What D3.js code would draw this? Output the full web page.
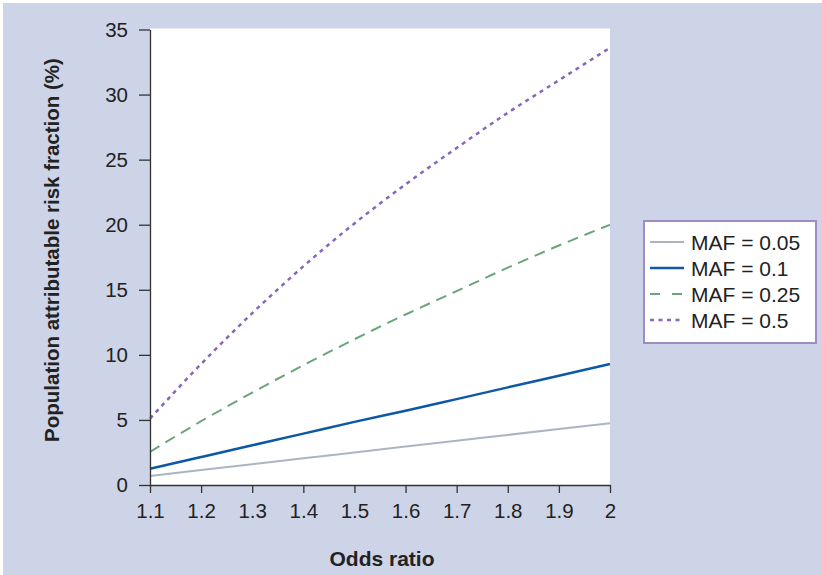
<!DOCTYPE html>
<html lang="en">
<head>
<meta charset="utf-8">
<title>PAR fraction vs odds ratio</title>
<style>
  body { margin: 0; background: #fff; }
  svg { display: block; font-family: "Liberation Sans", Arial, Helvetica, sans-serif; }
  .axis path, .axis line { stroke: #333; stroke-width: 1.3px; }
  .axis text { font-size: 20.5px; fill: #222; }
  .series { fill: none; }
</style>
</head>
<body>
<div id="chart"></div>
<script src="https://cdn.jsdelivr.net/npm/d3@7"></script>
<script>
// values
var oddsRatio = [1.1, 1.2, 1.3, 1.4, 1.5, 1.6, 1.7, 1.8, 1.9, 2.0];
var maf005 = [0.7, 1.15, 1.6, 2.05, 2.5, 2.95, 3.4, 3.85, 4.3, 4.75];
var maf01  = [1.25, 2.15, 3.05, 3.95, 4.85, 5.7, 6.6, 7.5, 8.4, 9.3];
var maf025 = [2.55, 4.9, 7.1, 9.2, 11.2, 13.1, 14.9, 16.7, 18.4, 20.0];
var maf05  = [5.1, 9.3, 13.2, 16.8, 20.1, 23.1, 25.9, 28.6, 31.1, 33.6];
var seriesNames = ["MAF = 0.05", "MAF = 0.1", "MAF = 0.25", "MAF = 0.5"];
var xTicks = [1.1, 1.2, 1.3, 1.4, 1.5, 1.6, 1.7, 1.8, 1.9, 2];
var yTicks = [0, 5, 10, 15, 20, 25, 30, 35];

var styles = [
  { color: "#aab5c3", width: 2,   dash: null },
  { color: "#0d58a6", width: 2.5, dash: null },
  { color: "#6ba47b", width: 2,   dash: "11,7" },
  { color: "#8666bb", width: 2.5, dash: "4,4.5" }
];

var width = 822, height = 575;
var plotLeft = 150, plotRight = 610, plotTop = 29.5, plotBottom = 485;

var svg = d3.select("#chart").append("svg")
    .attr("width", width)
    .attr("height", height);

// backdrop with the thin white edge on top/left
svg.append("rect").attr("width", width).attr("height", height).attr("fill", "#fff");
svg.append("rect").attr("x", 3).attr("y", 3).attr("width", width - 3).attr("height", height - 3)
    .attr("fill", "#ced4e8");

var x = d3.scaleLinear().domain([1.1, 2]).range([plotLeft, plotRight]);
var y = d3.scaleLinear().domain([0, 35]).range([plotBottom, plotTop]);

svg.append("rect")
    .attr("x", plotLeft).attr("y", plotTop - 1)
    .attr("width", plotRight - plotLeft).attr("height", plotBottom - plotTop + 1)
    .attr("fill", "#fff");

var data = [maf005, maf01, maf025, maf05].map(function(vals) {
  return vals.map(function(v, i) { return [oddsRatio[i], v]; });
});

var line = d3.line()
    .x(function(d) { return x(d[0]); })
    .y(function(d) { return y(d[1]); })
    .curve(d3.curveMonotoneX);

svg.selectAll(".series")
    .data(data)
  .enter().append("path")
    .attr("class", "series")
    .attr("d", line)
    .attr("stroke", function(d, i) { return styles[i].color; })
    .attr("stroke-width", function(d, i) { return styles[i].width; })
    .attr("stroke-dasharray", function(d, i) { return styles[i].dash; });

svg.append("g")
    .attr("class", "axis")
    .attr("transform", "translate(0," + plotBottom + ")")
    .call(d3.axisBottom(x).tickValues(xTicks).tickSize(8).tickSizeOuter(0).tickPadding(10)
      .tickFormat(function(d) { return d === 2 ? "2" : d3.format(".1f")(d); }));

svg.append("g")
    .attr("class", "axis")
    .attr("transform", "translate(" + plotLeft + ",0)")
    .call(d3.axisLeft(y).tickValues(yTicks).tickSize(11).tickSizeOuter(0).tickPadding(11));

// axis titles
svg.append("text")
    .attr("x", 382).attr("y", 566)
    .attr("text-anchor", "middle")
    .attr("font-size", 21).attr("font-weight", "bold").attr("fill", "#222")
    .text("Odds ratio");

svg.append("text")
    .attr("transform", "translate(59,250) rotate(-90)")
    .attr("text-anchor", "middle")
    .attr("font-size", 20.5).attr("font-weight", "bold").attr("fill", "#222")
    .text("Population attributable risk fraction (%)");

// legend
var legend = svg.append("g");
legend.append("rect")
    .attr("x", 644).attr("y", 221).attr("width", 172).attr("height", 122)
    .attr("fill", "#fff").attr("stroke", "#9f8cc2").attr("stroke-width", 2);

var rows = legend.selectAll(".row")
    .data(seriesNames)
  .enter().append("g")
    .attr("class", "row")
    .attr("transform", function(d, i) { return "translate(0," + (242 + i * 26) + ")"; });

rows.append("line")
    .attr("x1", 650).attr("x2", 684)
    .attr("stroke", function(d, i) { return styles[i].color; })
    .attr("stroke-width", function(d, i) { return styles[i].width; })
    .attr("stroke-dasharray", function(d, i) { return i === 2 ? "10,12" : styles[i].dash; });

rows.append("text")
    .attr("x", 691).attr("dy", "0.36em")
    .attr("font-size", 21).attr("fill", "#222")
    .text(function(d) { return d; });
</script>
</body>
</html>
